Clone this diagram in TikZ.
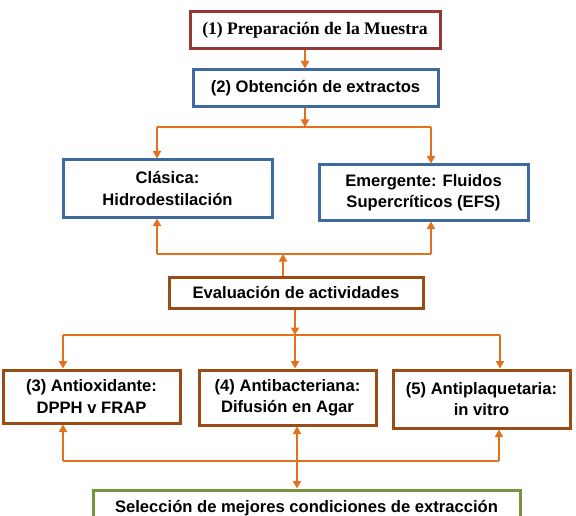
\documentclass[tikz,border=0pt]{standalone}
\usepackage{fontspec}
\setmainfont{Liberation Sans}
\newfontfamily\boxserif{Liberation Serif}
\usetikzlibrary{arrows.meta}
\definecolor{cRed}{HTML}{953735}
\definecolor{cBlue}{HTML}{3E6A9E}
\definecolor{cBrown}{HTML}{9A4C14}
\definecolor{cGreen}{HTML}{77933C}
\definecolor{cOrange}{HTML}{E3701A}
\tikzset{
  flowbox/.style={draw, line width=3pt, fill=white, align=center, inner sep=0pt,
    font=\bfseries\fontsize{16.6}{21.5}\selectfont},
  conn/.style={draw=cOrange, line width=2.7pt},
  arr/.style={conn, -{Triangle[length=7.5pt,width=8pt]}},
}
\begin{document}
\begin{tikzpicture}[x=1pt,y=-1pt]
\useasboundingbox (0,0) rectangle (576,516);
% boxes
\node[flowbox, draw=cRed, minimum width=250pt, minimum height=37pt,
  font=\boxserif\bfseries\fontsize{17.6}{21}\selectfont] (prep) at (315,30.5) {(1) Preparación de la Muestra};
\node[flowbox, draw=cBlue, minimum width=245pt, minimum height=37pt] (obt) at (315.5,88.5) {(2) Obtención de extractos};
\node[flowbox, draw=cBlue, minimum width=209pt, minimum height=57pt] (clas) at (167.5,188.5) {Clásica:\\Hidrodestilación};
\node[flowbox, draw=cBlue, minimum width=209pt, minimum height=55pt] (emer) at (423.5,192.5) {Emergente: Fluidos\\Supercríticos (EFS)};
\node[flowbox, draw=cBrown, minimum width=254pt, minimum height=31pt] (eval) at (296,292.5) {Evaluación de actividades};
\node[flowbox, draw=cBrown, minimum width=177pt, minimum height=53pt] (antiox) at (91.5,396.5) {(3) Antioxidante:\\DPPH v FRAP};
\node[flowbox, draw=cBrown, minimum width=177pt, minimum height=55pt] (antibac) at (287.5,397.5) {(4) Antibacteriana:\\Difusión en Agar};
\node[flowbox, draw=cBrown, minimum width=177pt, minimum height=58pt] (antipl) at (481.5,399) {(5) Antiplaquetaria:\\in vitro};
\node[flowbox, draw=cGreen, minimum width=427pt, minimum height=36pt] (sel) at (306.5,508) {Selección de mejores condiciones de extracción};
% junction coordinates
\coordinate (b1L) at (157,127);
\coordinate (b1R) at (431,127);
\coordinate (b1M) at (305,127);
\coordinate (b2L) at (157,254);
\coordinate (b2R) at (431,254);
\coordinate (b2M) at (283,254);
\coordinate (b3L) at (63,335);
\coordinate (b3R) at (500,335);
\coordinate (b3M) at (295,335);
\coordinate (b4L) at (63,461);
\coordinate (b4R) at (499,461);
\coordinate (b4M) at (297,461);
% connectors
\draw[arr] (prep.south -| b1M) -- (obt.north -| b1M);
\draw[arr] (obt.south -| b1M) -- (b1M);
\draw[conn] (b1L) -- (b1R);
\draw[arr] (b1L) -- (b1L |- clas.north);
\draw[arr] (b1R) -- (b1R |- emer.north);
\draw[conn] (b2L) -- (b2R);
\draw[arr] (b2L) -- (b2L |- clas.south);
\draw[arr] (b2R) -- (b2R |- emer.south);
\draw[arr] (eval.north -| b2M) -- (b2M);
\draw[arr] (eval.south -| b3M) -- (b3M);
\draw[conn] (b3L) -- (b3R);
\draw[arr] (b3L) -- (b3L |- antiox.north);
\draw[arr] (b3M) -- (b3M |- antibac.north);
\draw[arr] (b3R) -- (b3R |- antipl.north);
\draw[conn] (b4L) -- (b4R);
\draw[arr] (b4L) -- (b4L |- antiox.south);
\draw[arr] (b4M) -- (b4M |- antibac.south);
\draw[arr] (b4R) -- (b4R |- antipl.south);
\draw[arr] (b4M) -- (b4M |- sel.north);
\end{tikzpicture}
\end{document}
